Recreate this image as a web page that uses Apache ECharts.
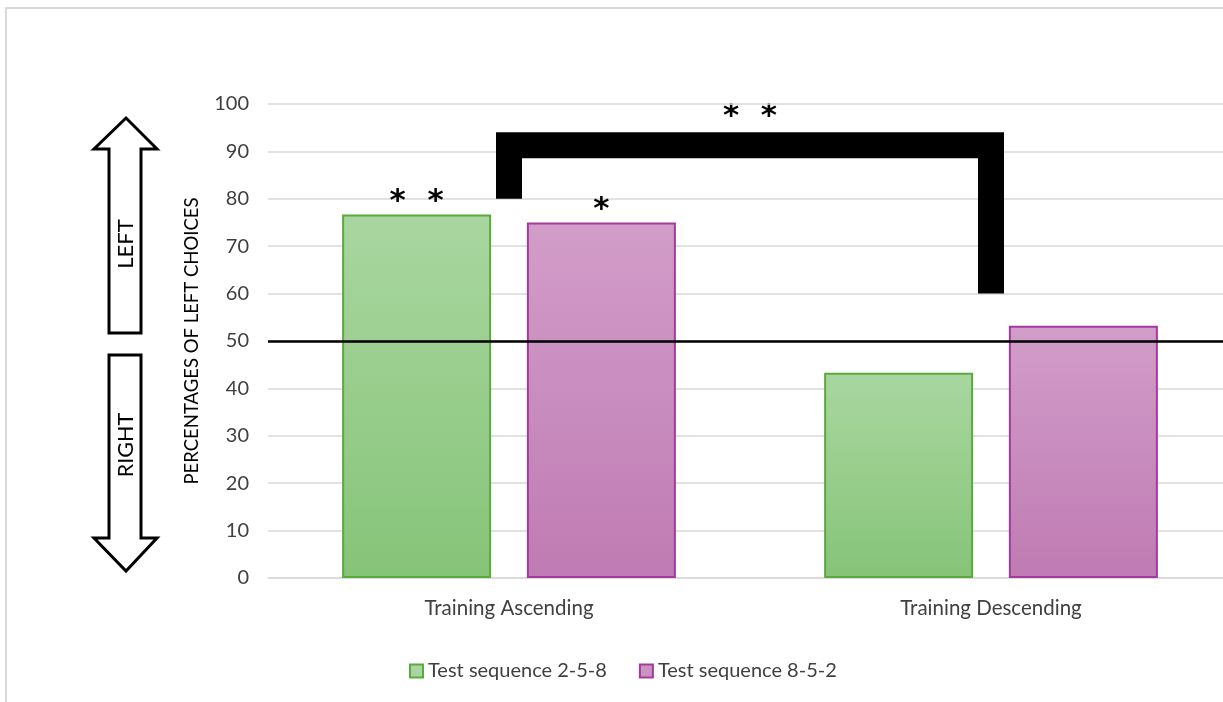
<!DOCTYPE html>
<html>
<head>
<meta charset="utf-8">
<script src="https://cdn.jsdelivr.net/npm/echarts@6/dist/echarts.min.js"></script>
<style>html,body{margin:0;padding:0;background:#fff;overflow:hidden;}#c{width:1240px;height:702px;}</style>
</head>
<body>
<div id="c"></div>
<script>
const categories = ['Training Ascending', 'Training Descending'];
const seriesNames = ['Test sequence 2-5-8', 'Test sequence 8-5-2'];
const seq258 = [76.7, 43.3];
const seq852 = [75.0, 53.2];
const stars258 = ['*  *', ''];
const stars852 = ['*', ''];
const chanceLevel = 50;
const bracketPoints = [[0, 80], [0, 91.3], [1, 91.3], [1, 60]];
const bracketStars = '*  *';
const bracketStarsValue = 97.2;
const yTicks = [0, 10, 20, 30, 40, 50, 60, 70, 80, 90, 100];

const FONT = 'Lato';
const STARFONT = 'DejaVu Sans';
const chart = echarts.init(document.getElementById('c'));

const greenFill = new echarts.graphic.LinearGradient(0, 0, 0, 1, [
  {offset: 0, color: '#A9D6A0'}, {offset: 1, color: '#86C478'}]);
const pinkFill = new echarts.graphic.LinearGradient(0, 0, 0, 1, [
  {offset: 0, color: '#D29DC9'}, {offset: 1, color: '#BF7BB3'}]);

const starLabel = {show: true, position: 'top', distance: -3, fontSize: 31, fontWeight: 'bold',
  color: '#000', fontFamily: STARFONT};

const option = {
  animation: false,
  backgroundColor: '#fff',
  textStyle: {fontFamily: FONT},
  grid: {left: 268, top: 104, width: 964, height: 474, containLabel: false},
  xAxis: {
    type: 'category',
    data: categories,
    axisLine: {lineStyle: {color: '#D9D9D9', width: 1.5}},
    axisTick: {show: false},
    axisLabel: {fontSize: 20.5, color: '#404040', margin: 20, fontFamily: FONT},
    splitLine: {show: false}
  },
  yAxis: {
    type: 'value',
    min: yTicks[0], max: yTicks[yTicks.length - 1], interval: 10,
    axisLine: {show: false},
    axisTick: {show: false},
    axisLabel: {fontSize: 20, color: '#404040', margin: 19, fontFamily: FONT},
    splitLine: {lineStyle: {color: '#D9D9D9', width: 1.5}},
    name: 'PERCENTAGES OF LEFT CHOICES',
    nameLocation: 'middle',
    nameRotate: 90,
    nameGap: 66,
    nameTextStyle: {fontSize: 18.5, color: '#000', fontFamily: FONT}
  },
  legend: {
    data: [
      {name: seriesNames[0], itemStyle: {color: '#A9D6A0', borderColor: '#5AAA3C', borderWidth: 2}},
      {name: seriesNames[1], itemStyle: {color: '#CB92C2', borderColor: '#A43A9E', borderWidth: 2}}
    ],
    left: 404, top: 656,
    icon: 'rect', itemWidth: 13, itemHeight: 13, itemGap: 32,
    textStyle: {fontSize: 20, color: '#404040', fontFamily: FONT}
  },
  series: [
    {
      name: seriesNames[0], type: 'bar', data: seq258,
      barWidth: 149, barGap: '24%',
      itemStyle: {color: greenFill, borderColor: '#5AAA3C', borderWidth: 2},
      label: Object.assign({}, starLabel, {formatter: p => stars258[p.dataIndex]}),
      markLine: {
        silent: true, symbol: 'none', label: {show: false},
        lineStyle: {color: '#000', width: 2.5, type: 'solid'},
        data: [{yAxis: chanceLevel}]
      },
      z: 2
    },
    {
      name: seriesNames[1], type: 'bar', data: seq852,
      barWidth: 149,
      itemStyle: {color: pinkFill, borderColor: '#A43A9E', borderWidth: 2},
      label: Object.assign({}, starLabel, {formatter: p => stars852[p.dataIndex]}),
      z: 2
    },
    {
      name: 'bracket', type: 'line', data: bracketPoints,
      symbol: 'none', silent: true,
      lineStyle: {color: '#000', width: 26, join: 'miter', cap: 'butt'},
      z: 3
    }
  ],
  graphic: [
    {type: 'rect', shape: {x: 6, y: 8, width: 1260, height: 720},
     style: {fill: 'none', stroke: '#D9D9D9', lineWidth: 2}, silent: true, z: -1},
    {type: 'polygon', shape: {points: [[126,118],[157,149],[141,149],[141,333],[109,333],[109,149],[94,149]]},
     style: {fill: '#fff', stroke: '#000', lineWidth: 3}},
    {type: 'polygon', shape: {points: [[109,355],[141,355],[141,538],[157,538],[126,571],[94,538],[109,538]]},
     style: {fill: '#fff', stroke: '#000', lineWidth: 3}},
    {type: 'text', x: 126, y: 244, rotation: Math.PI / 2,
     style: {text: 'LEFT', fontSize: 22, fontFamily: FONT, fill: '#000', align: 'center', verticalAlign: 'middle'}},
    {type: 'text', x: 126, y: 445, rotation: Math.PI / 2,
     style: {text: 'RIGHT', fontSize: 21.5, fontFamily: FONT, fill: '#000', align: 'center', verticalAlign: 'middle'}}
  ]
};
chart.setOption(option);

const x0 = chart.convertToPixel({xAxisIndex: 0}, categories[0]);
const x1 = chart.convertToPixel({xAxisIndex: 0}, categories[1]);
const yS = chart.convertToPixel({yAxisIndex: 0}, bracketStarsValue);
chart.setOption({
  graphic: option.graphic.concat([
    {type: 'text', x: (x0 + x1) / 2, y: yS,
     style: {text: bracketStars, fontSize: 31, fontWeight: 'bold', fontFamily: STARFONT, fill: '#000',
       align: 'center', verticalAlign: 'middle'}}
  ])
});
</script>
</body>
</html>
